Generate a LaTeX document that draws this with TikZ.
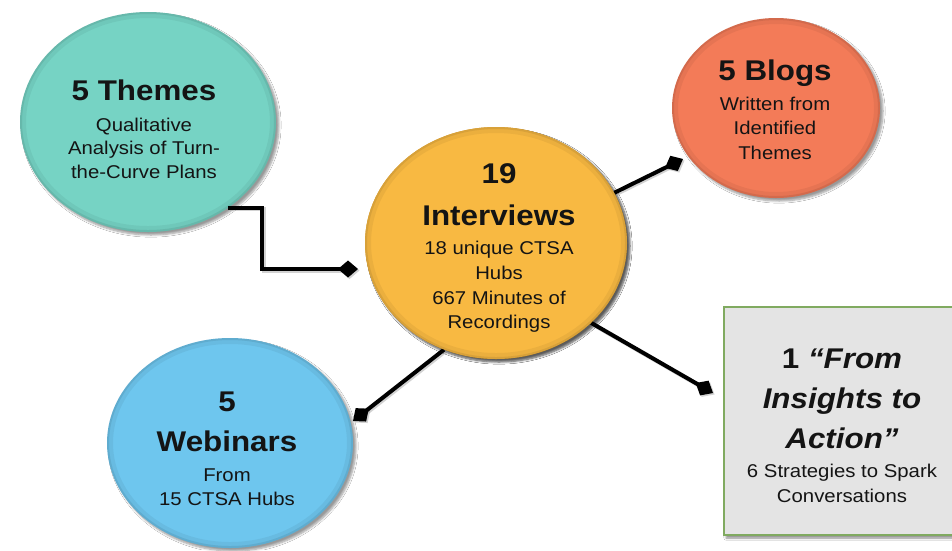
\documentclass[tikz,border=0pt]{standalone}
\usepackage{fontspec}
\setmainfont[FakeStretch=1.1]{Liberation Sans}
\usetikzlibrary{shapes.geometric,arrows.meta,shadows.blur,calc}

\definecolor{tealfill}{RGB}{118,211,196}
\definecolor{goldfill}{RGB}{248,185,66}
\definecolor{coralfill}{RGB}{243,123,88}
\definecolor{skyfill}{RGB}{110,198,238}
\definecolor{cardfill}{RGB}{228,228,228}
\definecolor{cardedge}{RGB}{128,170,96}
\definecolor{ink}{RGB}{20,20,20}

\tikzset{
  bubble/.style={ellipse, draw=none, inner sep=0pt, fill=#1,
    blur shadow={shadow xshift=3pt, shadow yshift=-3pt, shadow blur steps=6, shadow opacity=40},
    path picture={
      \coordinate (pc) at (path picture bounding box.center);
      \coordinate (pne) at (path picture bounding box.north east);
      \draw[line width=12pt, draw=black, opacity=.05] let \p1=($(pne)-(pc)$) in
        (pc) ellipse [x radius=\x1, y radius=\y1];
      \draw[line width=4pt, draw=black, opacity=.08] let \p1=($(pne)-(pc)$) in
        (pc) ellipse [x radius=\x1, y radius=\y1];
    }},
  card/.style={rectangle, draw=cardedge, line width=1.2pt, fill=cardfill, inner sep=0pt,
    blur shadow={shadow xshift=2pt, shadow yshift=-3pt, shadow blur steps=5, shadow opacity=45}},
  conn/.style={line width=4pt, draw=black, -{Diamond[length=20pt,width=17pt]},
    preaction={draw=black!35, line width=4pt, opacity=.5, transform canvas={xshift=1.5pt,yshift=-1.5pt}}},
  head/.style={anchor=base, inner sep=0pt, text=ink, font=\bfseries\fontsize{28.5}{32}\selectfont},
  headit/.style={head, font=\bfseries\itshape\fontsize{28.5}{32}\selectfont},
  sub/.style={anchor=base, inner sep=0pt, text=ink, font=\fontsize{18.5}{21}\selectfont},
}

\begin{document}
\begin{tikzpicture}[x=1pt,y=-1pt]
\fill[white] (0,0) rectangle (952,550);
\useasboundingbox (0,0) rectangle (952,550);

% bubbles (shapes only; their text is set line by line below)
\node[bubble=tealfill,  minimum width=256pt, minimum height=220pt] (themes)     at (148,122) {};
\node[bubble=coralfill, minimum width=208pt, minimum height=180pt] (blogs)      at (776,108) {};
\node[bubble=skyfill,   minimum width=246pt, minimum height=210pt] (webinars)   at (230,443) {};
\node[card, minimum width=236pt, minimum height=228pt]             (insights)   at (842,421) {};

% connector end points
\coordinate (elbow)      at (262,269);
\coordinate (tipThemes)  at (358,269);
\coordinate (tipBlogs)   at (683,159);
\coordinate (tipCard)    at (713,393);
\coordinate (tipWeb)     at (353,421);

% hub bubble, placed so the connectors start at its rim
\node[bubble=goldfill, minimum width=262pt, minimum height=232pt] (interviews) at (496,243) {};

% connectors
\draw[conn] (themes.-47) -| (elbow) -- (tipThemes);
\draw[conn] (interviews.23)   -- (tipBlogs);
\draw[conn] (interviews.-40)  -- (tipCard);
\draw[conn] (interviews.-116) -- (tipWeb);

% redraw the hub on top of the connector starts
\node[bubble=goldfill, minimum width=262pt, minimum height=232pt] (hub) at (496,243) {};

% 5 Themes
\node[head] (themes-t)  at (144,100) {5 Themes};
\node[sub]  (themes-1)  at (144,131) {Qualitative};
\node[sub]  (themes-2)  at (144,154.5) {Analysis of Turn-};
\node[sub]  (themes-3)  at (144,178) {the-Curve Plans};

% 19 Interviews
\node[head] (int-t1) at (499,183) {19};
\node[head] (int-t2) at (499,225) {Interviews};
\node[sub]  (int-1)  at (499,254) {18 unique CTSA};
\node[sub]  (int-2)  at (499,279) {Hubs};
\node[sub]  (int-3)  at (499,304) {667 Minutes of};
\node[sub]  (int-4)  at (499,328) {Recordings};

% 5 Blogs
\node[head] (blogs-t) at (775,80)  {5 Blogs};
\node[sub]  (blogs-1) at (775,110) {Written from};
\node[sub]  (blogs-2) at (775,134.5) {Identified};
\node[sub]  (blogs-3) at (775,159) {Themes};

% 5 Webinars
\node[head] (web-t1) at (227,411) {5};
\node[head] (web-t2) at (227,451) {Webinars};
\node[sub]  (web-1)  at (227,481) {From};
\node[sub]  (web-2)  at (227,505) {15 CTSA Hubs};

% From Insights to Action
\node[head]   (card-t1) at (842,368) {1 \textit{“From}};
\node[headit] (card-t2) at (842,408) {Insights to};
\node[headit] (card-t3) at (842,448) {Action”};
\node[sub]    (card-1)  at (842,477) {6 Strategies to Spark};
\node[sub]    (card-2)  at (842,502) {Conversations};
\end{tikzpicture}
\end{document}
